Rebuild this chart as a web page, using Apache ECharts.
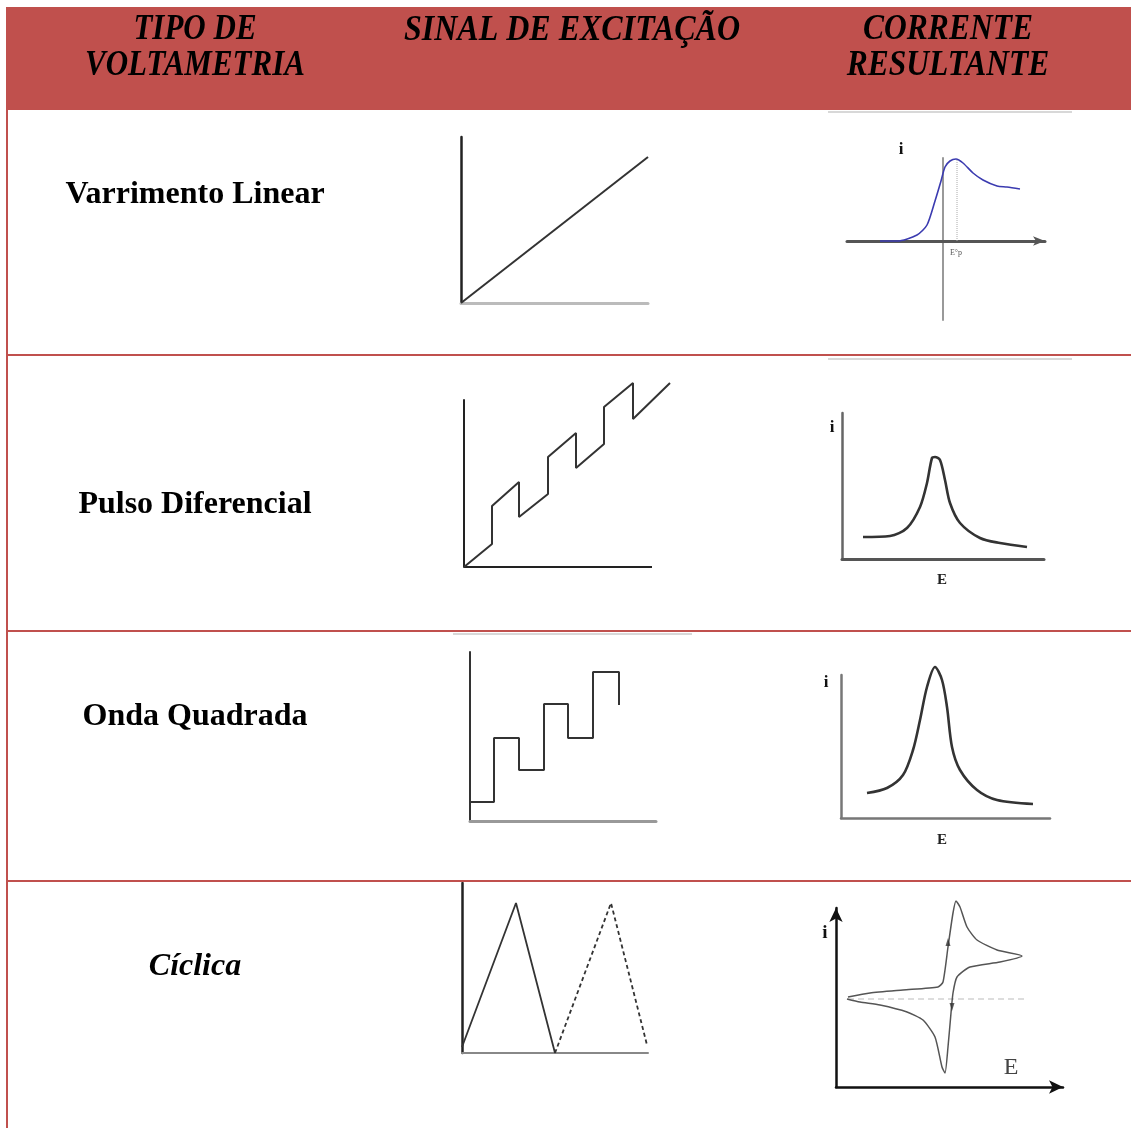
<!DOCTYPE html>
<html><head><meta charset="utf-8">
<script src="https://cdn.jsdelivr.net/npm/echarts@6/dist/echarts.min.js"></script>
<style>html,body{margin:0;padding:0;background:#fff}#c{width:1131px;height:1128px}</style>
</head><body><div id="c"></div>
<script>
// ---- text ----
const headerTitles = [['TIPO DE', 'VOLTAMETRIA'], ['SINAL DE EXCITAÇÃO'], ['CORRENTE', 'RESULTANTE']];
const rowLabels = ['Varrimento Linear', 'Pulso Diferencial', 'Onda Quadrada', 'Cíclica'];
const axisLetters = ['i', 'E'];
const peakLabel = 'E°p';

// ---- data (arbitrary units) ----
const linearSignal = [[0, 0], [187, 146]];
const linearCurrent = [[-63, 0], [-46, 0], [-26, 6], [-16, 16], [-8, 40], [-2, 60], [2, 74], [7, 80], [13, 82], [20, 78], [30, 68], [40, 61], [54, 55], [64, 54], [77, 52]];
const linearPeakLine = [[14, 0], [14, 82]];

const dpvSignal = [[0, 0], [28, 23], [28, 61], [55, 85], [55, 50], [84, 73], [84, 110], [112, 134], [112, 99], [140, 123], [140, 160], [169, 184], [169, 148], [206, 184]];
const dpvAxis = [[0, 0], [188, 0]];
const dpvCurrent = [[21, 22], [48, 23], [65, 31], [78, 52], [85, 76], [90, 101], [93, 102], [98, 99], [103, 79], [108, 56], [118, 36], [138, 21], [158, 16], [185, 12]];

const swvSignal = [[0, 19], [24, 19], [24, 83], [49, 83], [49, 51], [74, 51], [74, 117], [98, 117], [98, 83], [123, 83], [123, 149], [149, 149], [149, 116]];
const swvCurrent = [[26, 25], [46, 30], [62, 43], [72, 68], [79, 98], [86, 131], [94, 151], [101, 138], [106, 111], [111, 71], [119, 48], [136, 28], [156, 18], [192, 14]];

const cvSignalSolid = [[0, 6], [54, 150], [93, 0]];
const cvSignalDashed = [[93, 0], [149, 150], [185, 8]];
const cvCurrent = [[12, 90], [34, 94], [67, 97], [102, 100], [107, 105], [112, 140], [117, 174], [120, 186], [124, 180], [131, 160], [141, 147], [161, 137], [186, 131],
  [164, 125], [134, 120], [121, 110], [117, 94], [115, 74], [112, 40], [109, 14], [106, 20], [99, 50], [87, 67], [71, 75], [44, 82], [24, 85], [11, 88]];
const cvBaseline = [[12, 88], [190, 88]];
const cvArrowsUp = [[112, 145]];
const cvArrowsDown = [[116, 80]];

// ---- layout ----
const RED = '#C0504D';
const panels = [
  {l: 461, t: 137, w: 187, h: 166, x: [0, 187], y: [0, 166], xa: {c: '#bbb', w: 3}, ya: {c: '#222', w: 2.5}},
  {l: 847, t: 158, w: 198, h: 162, x: [-96, 102], y: [-79, 83], xa: {c: '#555', w: 3, arrow: [7, 12]}, ya: {c: '#999', w: 2}},
  {l: 464, t: 400, w: 206, h: 167, x: [0, 206], y: [0, 167], xa: {c: '#222', w: 2, hide: true}, ya: {c: '#222', w: 2}},
  {l: 842, t: 413, w: 202, h: 146, x: [0, 202], y: [0, 146], xa: {c: '#555', w: 3}, ya: {c: '#666', w: 2.5}},
  {l: 470, t: 652, w: 186, h: 169, x: [0, 186], y: [0, 169], xa: {c: '#999', w: 3}, ya: {c: '#333', w: 2}},
  {l: 841, t: 675, w: 209, h: 143, x: [0, 209], y: [0, 143], xa: {c: '#777', w: 2.5}, ya: {c: '#777', w: 2.5}},
  {l: 462, t: 883, w: 186, h: 170, x: [0, 186], y: [0, 170], xa: {c: '#888', w: 2}, ya: {c: '#222', w: 2.5}},
  {l: 836, t: 908, w: 227, h: 179, x: [0, 227], y: [0, 179], xa: {c: '#111', w: 2.5, arrow: [10, 14]}, ya: {c: '#111', w: 2.5, arrow: [10, 14]}}
];

const grid = [], xAxis = [], yAxis = [];
panels.forEach((p, i) => {
  grid.push({left: p.l, top: p.t, width: p.w, height: p.h, containLabel: false});
  const mk = (a, rng) => ({
    type: 'value', gridIndex: i, min: rng[0], max: rng[1],
    axisLine: {show: !a.hide, onZero: true, lineStyle: {color: a.c, width: a.w},
      symbol: a.arrow ? ['none', 'arrow'] : ['none', 'none'], symbolSize: a.arrow || [8, 10]},
    axisTick: {show: false}, axisLabel: {show: false}, splitLine: {show: false}
  });
  xAxis.push(mk(p.xa, p.x));
  yAxis.push(mk(p.ya, p.y));
});

function line(idx, data, color, width, opts) {
  return Object.assign({
    type: 'line', xAxisIndex: idx, yAxisIndex: idx, data: data, symbol: 'none', clip: false,
    lineStyle: {color: color, width: width}, silent: true, z: 3
  }, opts || {});
}

const series = [
  line(0, linearSignal, '#333', 2),
  line(1, linearPeakLine, '#aaa', 1, {lineStyle: {color: '#aaa', width: 1, type: 'dotted'}}),
  line(1, linearCurrent, '#3b3bb0', 1.6, {smooth: 0.25}),
  line(2, dpvAxis, '#222', 2, {z: 2}),
  line(2, dpvSignal, '#333', 2),
  line(3, dpvCurrent, '#333', 2.6, {smooth: 0.3}),
  line(4, swvSignal, '#333', 2),
  line(5, swvCurrent, '#333', 2.6, {smooth: 0.3}),
  line(6, cvSignalSolid, '#333', 1.8),
  line(6, cvSignalDashed, '#333', 1.8, {lineStyle: {color: '#333', width: 1.8, type: [4, 3]}}),
  line(7, cvBaseline, '#bbb', 1.2, {lineStyle: {color: '#bbb', width: 1.2, type: [6, 4]}}),
  line(7, cvCurrent, '#555', 1.5, {smooth: 0.2}),
  {type: 'scatter', xAxisIndex: 7, yAxisIndex: 7, data: cvArrowsUp, symbol: 'triangle', symbolSize: [5, 8], itemStyle: {color: '#333'}, z: 4},
  {type: 'scatter', xAxisIndex: 7, yAxisIndex: 7, data: cvArrowsDown, symbol: 'triangle', symbolRotate: 180, symbolSize: [5, 8], itemStyle: {color: '#333'}, z: 4}
];

// ---- table graphics ----
const graphic = [];
graphic.push({type: 'rect', shape: {x: 6, y: 7, width: 1125, height: 103}, style: {fill: RED}, z: 0});
graphic.push({type: 'rect', shape: {x: 6, y: 110, width: 2, height: 1018}, style: {fill: RED}, z: 1});
[355, 631, 881].forEach(y => graphic.push({type: 'rect', shape: {x: 6, y: y - 1, width: 1125, height: 2}, style: {fill: RED}, z: 1}));
[[828, 111, 244], [828, 358, 244], [453, 633, 239]].forEach(a => graphic.push({type: 'rect', shape: {x: a[0], y: a[1], width: a[2], height: 2}, style: {fill: '#d8d8d8'}, z: 1}));

const headerCenters = [195, 572, 948];
const headerSizes = [31, 32, 31.5];
headerTitles.forEach((lines, i) => {
  lines.forEach((t, j) => {
    graphic.push({type: 'text', x: headerCenters[i], y: 30 + j * 36, scaleY: 1.15, z: 5,
      style: {text: t, x: 0, y: 0, textAlign: 'center', textVerticalAlign: 'middle',
        font: 'italic bold ' + headerSizes[i] + 'px "Liberation Serif", serif', fill: '#000'}});
  });
});
const rowY = [195, 505, 717, 967];
rowLabels.forEach((t, i) => {
  graphic.push({type: 'text', x: 195, y: rowY[i], z: 5,
    style: {text: t, textAlign: 'center', textVerticalAlign: 'middle',
      font: (i === 3 ? 'italic ' : '') + 'bold 32px "Liberation Serif", serif', fill: '#000'}});
});
[[901, 150, 17], [832, 428, 17], [826, 683, 17], [825, 933, 19]].forEach(a => graphic.push({type: 'text', x: a[0], y: a[1], z: 5,
  style: {text: axisLetters[0], textAlign: 'center', textVerticalAlign: 'middle', font: 'bold ' + a[2] + 'px "Liberation Serif", serif', fill: '#111'}}));
[[942, 580, 15, 'bold'], [942, 840, 15, 'bold'], [1011, 1068, 24, 'normal']].forEach(a => graphic.push({type: 'text', x: a[0], y: a[1], z: 5,
  style: {text: axisLetters[1], textAlign: 'center', textVerticalAlign: 'middle', font: a[3] + ' ' + a[2] + 'px "Liberation Serif", serif', fill: a[3] === 'bold' ? '#222' : '#444'}}));
graphic.push({type: 'text', x: 956, y: 253, z: 5, style: {text: peakLabel, textAlign: 'center', textVerticalAlign: 'middle', font: '8px "Liberation Serif", serif', fill: '#555'}});

const chart = echarts.init(document.getElementById('c'), null, {renderer: 'canvas'});
chart.setOption({animation: false, backgroundColor: '#fff', grid, xAxis, yAxis, series, graphic});
</script></body></html>
